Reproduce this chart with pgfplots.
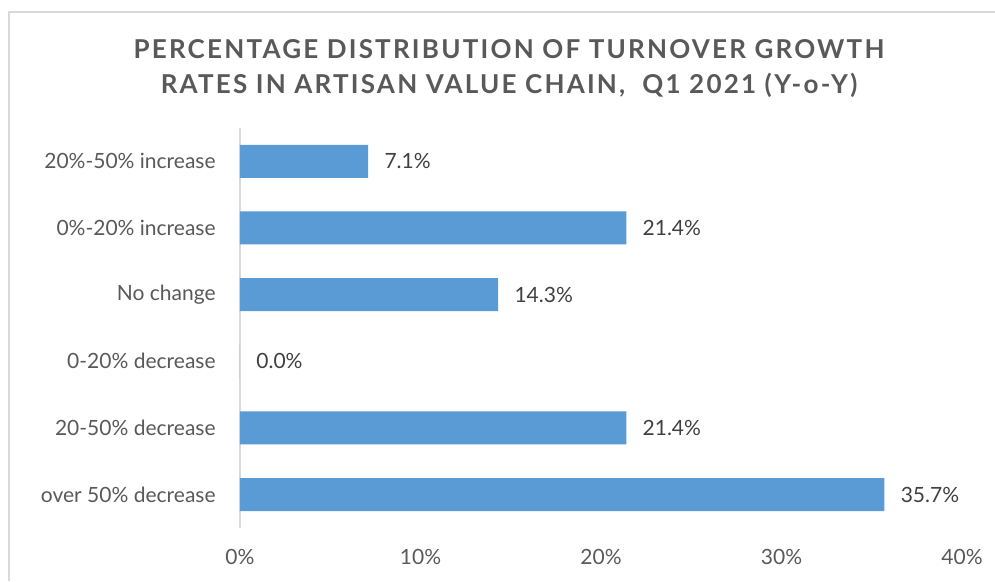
\documentclass[border=0pt]{standalone}
\usepackage{pgfplots}
\pgfplotsset{compat=1.18}
\usepackage{fontspec}
\setmainfont{Lato}
\definecolor{barblue}{HTML}{5B9BD5}
\definecolor{labelgray}{HTML}{595959}
\definecolor{valgray}{HTML}{404040}
\definecolor{linegray}{HTML}{D9D9D9}
\begin{document}
\begin{tikzpicture}
\begin{axis}[
    scale only axis,
    width=361pt, height=200pt,
    clip=false,
    xmin=0, xmax=40,
    ymin=-0.5, ymax=5.5,
    axis x line*=bottom,
    axis y line*=left,
    x axis line style={draw=none},
    y axis line style={linegray, line width=0.8pt, -},
    major tick length=0pt,
    /pgf/number format/assume math mode=true,
    xtick={0,10,20,30,40},
    xticklabel={\pgfmathprintnumber{\tick}\%},
    xticklabel style={anchor=center, yshift=-14.5pt, inner sep=0pt},
    ytick={0,1,2,3,4,5},
    yticklabels={over 50\% decrease, 20-50\% decrease, 0-20\% decrease, No change, 0\%-20\% increase, 20\%-50\% increase},
    yticklabel style={anchor=east, xshift=-12pt, inner sep=0pt},
    tick label style={labelgray, font=\fontsize{10.5}{12}\selectfont},
    nodes near coords={\pgfmathprintnumber[fixed, fixed zerofill, precision=1, assume math mode=true]{\pgfplotspointmeta}\%},
    nodes near coords style={anchor=west, inner sep=0pt, xshift=8pt, valgray, font=\fontsize{10.5}{12}\selectfont},
    point meta=x,
  ]
  \addplot[xbar, fill=barblue, draw=none, bar width=16.5pt] coordinates {
    (35.7,0)
    (21.4,1)
    (0.0,2)
    (14.3,3)
    (21.4,4)
    (7.1,5)
  };
  % chart frame (cut off at right and bottom) and title
  \draw[linegray, line width=0.7pt] (rel axis cs:-0.3199,-0.1325) -- (rel axis cs:-0.3199,1.29) -- (rel axis cs:1.0457,1.29);
  \node[labelgray, font=\bfseries\fontsize{13}{17.5}\selectfont\addfontfeature{LetterSpace=8.5}, align=center]
    at (rel axis cs:0.3726,1.1488) {PERCENTAGE DISTRIBUTION OF TURNOVER GROWTH\\RATES IN ARTISAN VALUE CHAIN,\ \ Q1 2021 (Y-o-Y)};
  \coordinate (bbsw) at (rel axis cs:-0.3324,-0.1325);
  \coordinate (bbne) at (rel axis cs:1.0457,1.32);
\end{axis}
\pgfresetboundingbox
\path[use as bounding box] (bbsw) rectangle (bbne);
\end{tikzpicture}
\end{document}
